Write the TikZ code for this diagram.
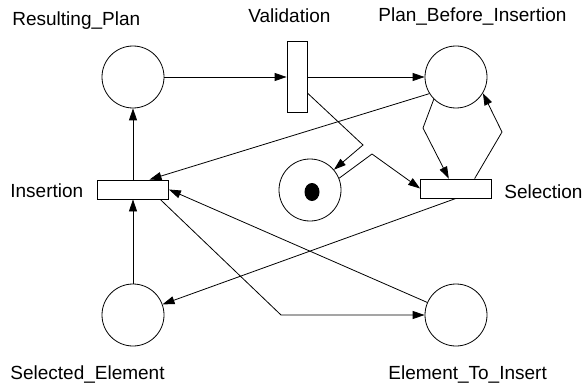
\documentclass[tikz,border=0pt]{standalone}
\usepackage{fontspec}
\setmainfont{Liberation Sans}
\usetikzlibrary{arrows.meta}

\begin{document}
\begin{tikzpicture}[x=1pt, y=-1pt,
    line width=0.8pt,
    place/.style={circle, draw, minimum size=62pt, inner sep=0pt},
    vtrans/.style={rectangle, draw, minimum width=20pt, minimum height=71pt, inner sep=0pt},
    htrans/.style={rectangle, draw, minimum width=71pt, minimum height=19pt, inner sep=0pt},
    lbl/.style={anchor=base west, inner sep=0pt, font=\fontsize{19}{22}\selectfont},
    arc/.style={-{Triangle[length=12pt, width=8pt]}}]

    % Frame
    \useasboundingbox (0,0) rectangle (583,385);

    % Places
    \node[place] (plan)   at (133,77)  {};
    \node[place] (before) at (456,77)  {};
    \node[place] (tok)    at (310,190) {};
    \node[place] (selel)  at (133,315) {};
    \node[place] (elins)  at (456,315) {};

    % Token
    \fill (312,192) ellipse (7.5pt and 9pt);

    % Transitions
    \node[vtrans] (valid)  at (297,77)    {};
    \node[htrans] (insert) at (133,189.5) {};
    \node[htrans] (select) at (456,188.5) {};

    % Bend points
    \coordinate (b1) at (363,145);
    \coordinate (b2) at (372,154);
    \coordinate (b3) at (423,128);
    \coordinate (b4) at (502,132);
    \coordinate (b5) at (281,315);

    % Arcs
    \draw[arc] (plan) -- (valid);
    \draw[arc] (valid) -- (before);
    \draw[arc] (valid.-57) -- (b1) -- (tok);
    \draw[arc] (tok.22) -- (b2) -- (select.west);
    \draw[arc] (before.225) -- (b3) -- (select.126);
    \draw[arc] (select.28) -- (b4) -- (before.-31);
    \draw[arc] (before.212) -- (insert.31.5);
    \draw[arc] (insert) -- (plan);
    \draw[arc] (selel) -- (insert);
    \draw[arc] (select.south) -- (selel);
    \draw[arc] (elins) -- (insert.east);
    \draw[arc] (insert.-20) -- (b5) -- (elins);

    % Labels
    \node[lbl] (lplan)   at (12,26)  {Resulting\_Plan};
    \node[lbl] (lvalid)  at (248,23) {Validation};
    \node[lbl] (lbefore) at (378,22) {Plan\_Before\_Insertion};
    \node[lbl] (linsert) at (10,197) {Insertion};
    \node[lbl] (lselect) at (504,198) {Selection};
    \node[lbl] (lselel)  at (10,379)  {Selected\_Element};
    \node[lbl] (lelins)  at (388,379) {Element\_To\_Insert};

\end{tikzpicture}
\end{document}
